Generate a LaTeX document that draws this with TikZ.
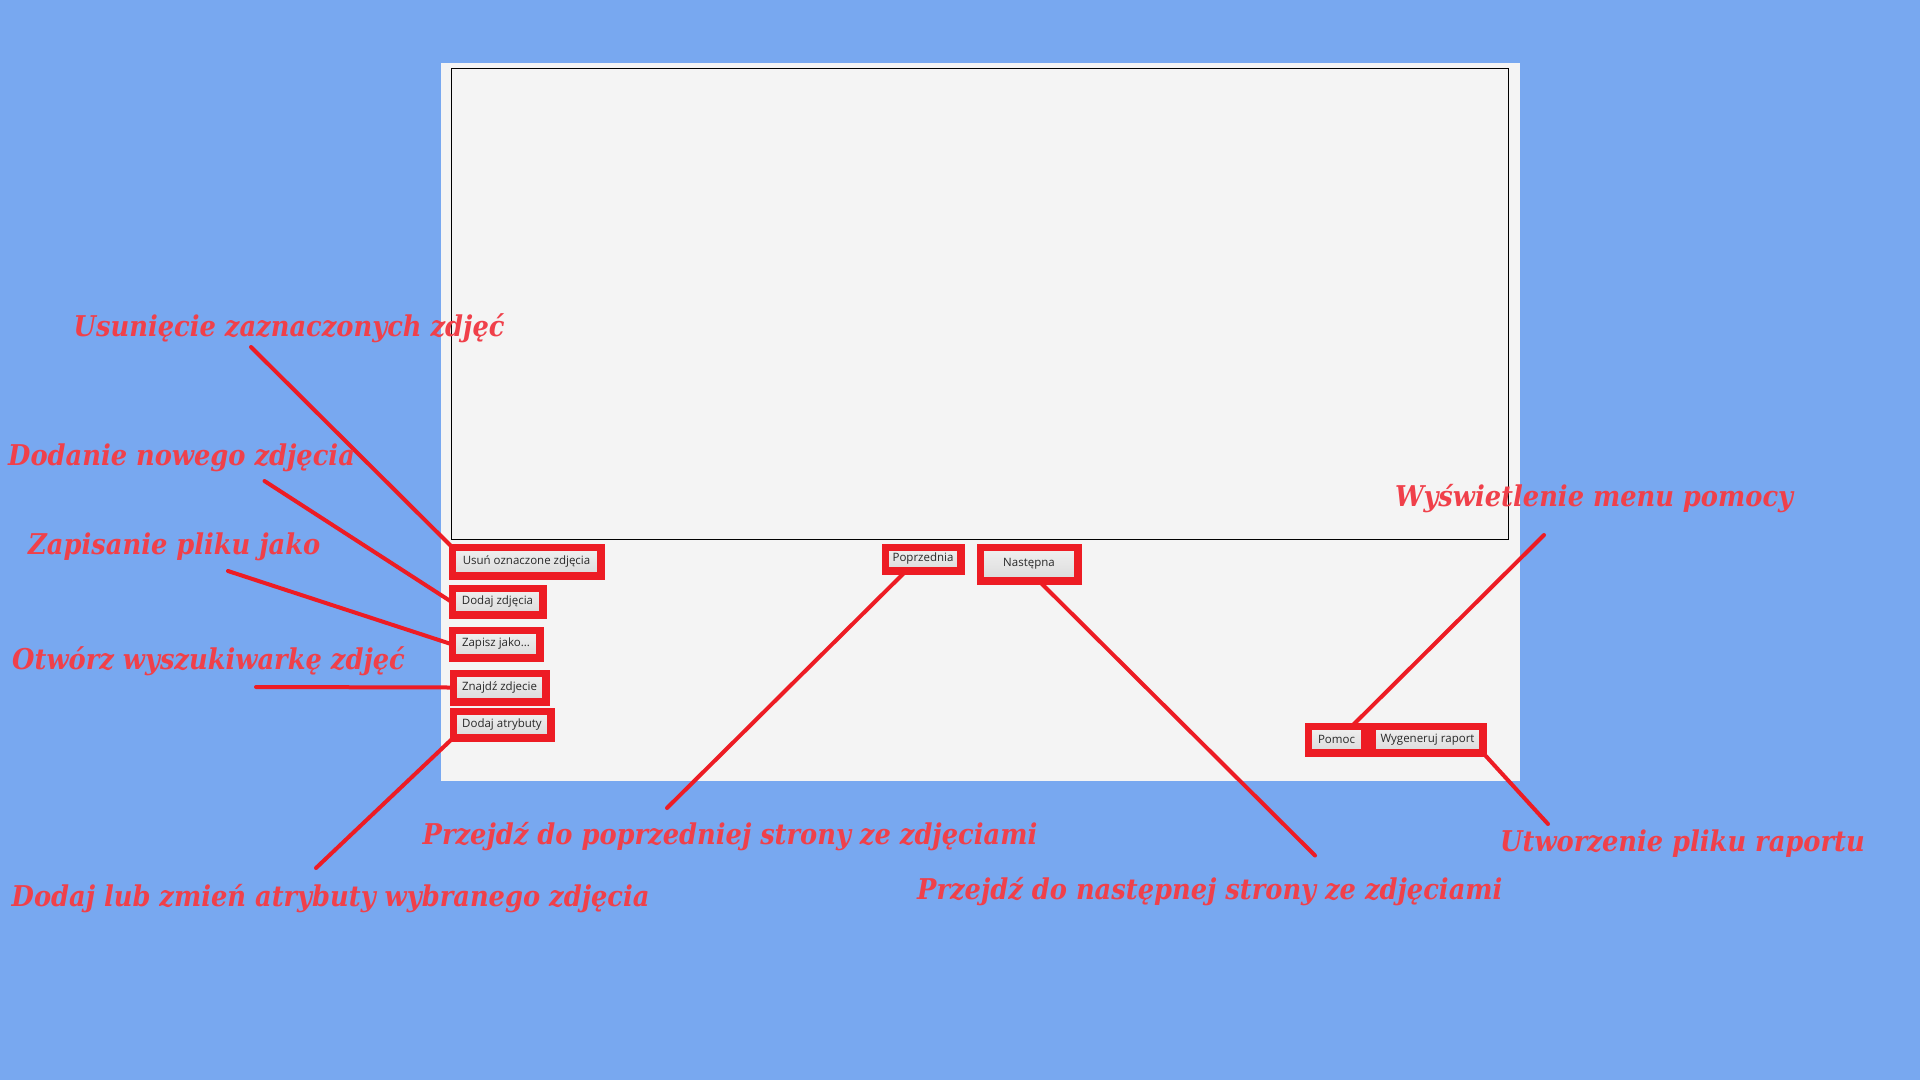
\documentclass[tikz,border=0pt]{standalone}
\usepackage{fontspec}
\setmainfont{DejaVu Serif}
\newfontfamily\notefont{DejaVu Serif Condensed}
\newfontfamily\uifont{Open Sans}
\usetikzlibrary{calc}
\definecolor{bgblue}{RGB}{120,168,240}
\definecolor{panelgray}{RGB}{244,244,244}
\definecolor{markred}{RGB}{237,28,36}
\definecolor{notered}{RGB}{240,64,74}
\definecolor{btntext}{RGB}{40,40,40}
\newcommand\notesize{28.6}
\newcommand\btnsize{11.5}

\begin{document}
\begin{tikzpicture}[x=1pt, y=-1pt]
	\tikzstyle{every node}=[inner sep=0pt]
	\tikzstyle{btn}=[draw=markred, line width=5pt, top color=white!94!black, bottom color=white!86!black, text=btntext, font=\uifont\fontsize{\btnsize}{14}\selectfont]
	\tikzstyle{note}=[anchor=base west, text=notered, font=\notefont\bfseries\itshape\fontsize{\notesize}{34}\selectfont]
	\tikzstyle{pointer}=[draw=markred, line width=4pt, line cap=round]
	
	%background, window, picture frame
	\useasboundingbox (0,0) rectangle (1920,1080);
	\fill[bgblue] (0,0) rectangle (1920,1080);
	\fill[panelgray] (441,63) rectangle (1520,781);
	\draw[black, line width=1pt] (451.5,68.5) rectangle (1508.5,539.5);
	
	%free ends of the pointers
	\coordinate (pusun) at (251,347);
	\coordinate (pdodaj) at (264.5,481);
	\coordinate (pzapisz) at (228,571);
	\coordinate (pznajdz) at (256,687);
	\coordinate (patryb) at (316,868);
	\coordinate (ppoprz) at (667,808);
	\coordinate (pnast) at (1315,855.5);
	\coordinate (ppomoc) at (1544,535);
	\coordinate (praport) at (1548,824);
	
	%buttons
	\path (526.5,561.5) node[btn, minimum width=146, minimum height=26] (usun) {Usuń oznaczone zdjęcia};
	\path (497.5,601.5) node[btn, minimum width=88, minimum height=24] (dodaj) {Dodaj zdjęcia};
	\path (496,644) node[btn, minimum width=85, minimum height=25] (zapisz) {Zapisz jako...};
	\path (499.5,687.5) node[btn, minimum width=90, minimum height=26] (znajdz) {Znajdź zdjecie};
	\path (502,724.5) node[btn, minimum width=95, minimum height=24] (atryb) {Dodaj atrybuty};
	\path (923,559) node[btn, minimum width=73, minimum height=21] (poprz) {Poprzednia};
	\path (1029,564) node[btn, minimum width=95, minimum height=31] (nast) {Następna};
	\path (1336.5,739.5) node[btn, minimum width=54, minimum height=24] (pomoc) {Pomoc};
	\path (1427.5,739.5) node[btn, minimum width=108, minimum height=24] (raport) {Wygeneruj raport};
	
	%pointers
	\draw[pointer] (pusun) -- (usun.north west);
	\draw[pointer] (pdodaj) -- (dodaj.west);
	\draw[pointer] (pzapisz) -- (zapisz.west);
	\draw[pointer] (pznajdz) -- (znajdz.west);
	\draw[pointer] (atryb.south west) -- (patryb);
	\draw[pointer] ($(poprz.south)+(-18,0)$) -- (ppoprz);
	\draw[pointer] ($(nast.south)+(11,0)$) -- (pnast);
	\draw[pointer] (ppomoc) -- ($(pomoc.north)+(16.5,0)$);
	\draw[pointer] (raport.south east) -- (praport);
	
	%red frames again over the pointer ends
	\foreach \b in {usun,dodaj,zapisz,znajdz,atryb,poprz,nast,pomoc,raport}
		\draw[markred, line width=5pt] (\b.north west) rectangle (\b.south east);
	
	%notes
	\node[note] (tusun) at (73.5,336) {Usunięcie zaznaczonych zdjęć};
	\node[note] (tdodaj) at (8,465) {Dodanie nowego zdjęcia};
	\node[note] (tzapisz) at (28,554) {Zapisanie pliku jako};
	\node[note] (tznajdz) at (12,669) {Otwórz wyszukiwarkę zdjęć};
	\node[note] (tatryb) at (11.5,906.5) {Dodaj lub zmień atrybuty wybranego zdjęcia};
	\node[note] (tpoprz) at (422.5,844) {Przejdź do poprzedniej strony ze zdjęciami};
	\node[note] (tnast) at (917,899) {Przejdź do następnej strony ze zdjęciami};
	\node[note] (tpomoc) at (1395,506.5) {Wyświetlenie menu pomocy};
	\node[note] (traport) at (1500,851.5) {Utworzenie pliku raportu};
\end{tikzpicture}
\end{document}
